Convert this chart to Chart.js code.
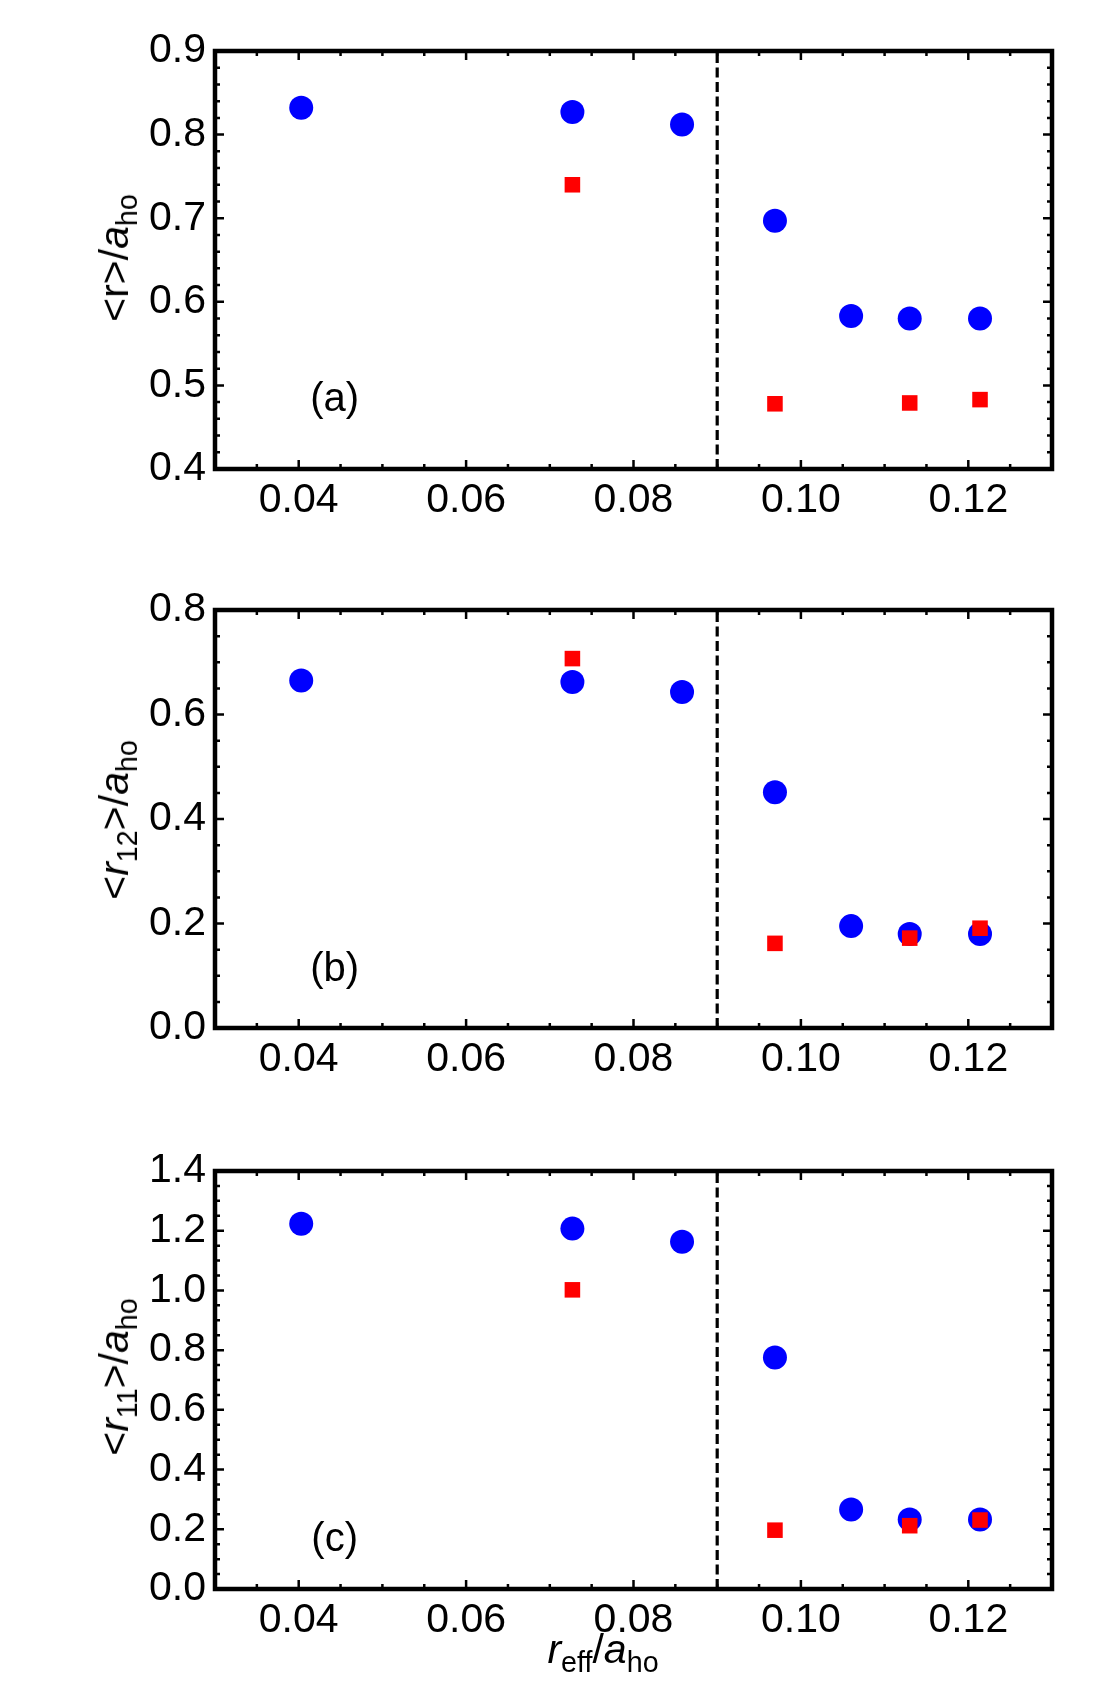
<!DOCTYPE html>
<html>
<head>
<meta charset="utf-8">
<script src="https://cdn.jsdelivr.net/npm/chart.js@4.4.0/dist/chart.umd.min.js"></script>
<style>
  body { margin: 0; background: #fff; width: 1119px; height: 1707px; position: relative; overflow: hidden;
         font-family: "Liberation Sans", Arial, sans-serif; color: #000; }
  canvas { position: absolute; left: 0; }
  .title { position: absolute; font-size: 41px; line-height: 40px; white-space: nowrap; }
  .ytitle { transform: translate(-50%, -50%) rotate(-90deg); }
  .xtitle { transform: translate(-50%, -50%); }
  .title sub { font-size: 0.7em; vertical-align: -0.3em; line-height: 0; }
  .title i { font-style: italic; }
</style>
</head>
<body>
<canvas id="panelA" width="1119" height="540" style="top:0px"></canvas>
<canvas id="panelB" width="1119" height="540" style="top:560px"></canvas>
<canvas id="panelC" width="1119" height="587" style="top:1120px"></canvas>

<div class="title ytitle" style="left:114px; top:258px">&lt;r&gt;/<i>a</i><sub>ho</sub></div>
<div class="title ytitle" style="left:114px; top:820px">&lt;<i>r</i><sub>12</sub>&gt;/<i>a</i><sub>ho</sub></div>
<div class="title ytitle" style="left:114px; top:1377px">&lt;<i>r</i><sub>11</sub>&gt;/<i>a</i><sub>ho</sub></div>
<div class="title xtitle" style="left:603px; top:1649px"><i>r</i><sub>eff</sub>/<i>a</i><sub>ho</sub></div>

<script>
// r_eff / a_ho positions of the two kinds of points
var xBlue = [0.0403, 0.0727, 0.0858, 0.0969, 0.1060, 0.1130, 0.1214];
var xRed = [0.0727, 0.0969, 0.1130, 0.1214];

// (a) <r>/a_ho
var rBlue = [0.832, 0.827, 0.812, 0.697, 0.583, 0.580, 0.580];
var rRed = [0.740, 0.478, 0.479, 0.483];
// (b) <r12>/a_ho
var r12Blue = [0.665, 0.662, 0.643, 0.451, 0.195, 0.180, 0.180];
var r12Red = [0.707, 0.162, 0.172, 0.191];
// (c) <r11>/a_ho
var r11Blue = [1.223, 1.207, 1.163, 0.775, 0.266, 0.233, 0.233];
var r11Red = [1.002, 0.197, 0.212, 0.231];

var dividerX = 0.09;

var xMajor = [0.04, 0.06, 0.08, 0.10, 0.12];
var xMinorStep = 0.005;
var yMajorA = [0.4, 0.5, 0.6, 0.7, 0.8, 0.9];
var yMajorB = [0.0, 0.2, 0.4, 0.6, 0.8];
var yMajorC = [0.0, 0.2, 0.4, 0.6, 0.8, 1.0, 1.2, 1.4];

var FONT = '"Liberation Sans", Arial, sans-serif';

function pairs(xs, ys) {
    return xs.map(function (x, i) { return { x: x, y: ys[i] }; });
}

function stepTicks(min, max, step) {
    var out = [];
    var n = Math.round((max - min) / step);
    for (var i = 0; i <= n; i++) out.push(+(min + i * step).toFixed(4));
    return out;
}

function isMajor(list, v) {
    return list.some(function (m) { return Math.abs(m - v) < 1e-6; });
}

// inward ticks on all four sides, the frame, and the panel letter
var frameTicks = {
    id: 'frameTicks',
    afterDatasetsDraw: function (chart, args, opts) {
        var ctx = chart.ctx, a = chart.chartArea;
        var xs = chart.scales.x, ys = chart.scales.y;
        ctx.save();
        ctx.strokeStyle = '#000';
        ctx.lineWidth = 2.5;
        opts.xTicks.forEach(function (v) {
            var len = isMajor(xMajor, v) ? 9 : 5;
            var px = xs.getPixelForValue(v);
            ctx.beginPath();
            ctx.moveTo(px, a.bottom); ctx.lineTo(px, a.bottom - len);
            ctx.moveTo(px, a.top); ctx.lineTo(px, a.top + len);
            ctx.stroke();
        });
        opts.yTicks.forEach(function (v) {
            var len = isMajor(opts.yMajor, v) ? 9 : 5;
            var py = ys.getPixelForValue(v);
            ctx.beginPath();
            ctx.moveTo(a.left, py); ctx.lineTo(a.left + len, py);
            ctx.moveTo(a.right, py); ctx.lineTo(a.right - len, py);
            ctx.stroke();
        });
        ctx.lineWidth = 4.5;
        ctx.strokeRect(a.left, a.top, a.right - a.left, a.bottom - a.top);

        ctx.fillStyle = '#000';
        ctx.font = '40px ' + FONT;
        ctx.textAlign = 'center';
        ctx.textBaseline = 'middle';
        ctx.fillText(opts.label, xs.getPixelForValue(opts.labelX), ys.getPixelForValue(opts.labelY));
        ctx.restore();
    }
};

function makePanel(id, blue, red, yMin, yMax, yMajor, yMinorStep, label, labelY, padTop, xHeight) {
    var el = document.getElementById(id).getContext('2d');
    return new Chart(el, {
        type: 'scatter',
        data: {
            datasets: [{
                data: pairs(xBlue, blue),
                order: 2,
                pointStyle: 'circle',
                pointRadius: 12,
                pointHoverRadius: 12,
                pointBorderWidth: 0,
                backgroundColor: '#0000FF',
                borderColor: '#0000FF'
            }, {
                data: pairs(xRed, red),
                order: 1,
                pointStyle: 'rect',
                pointRadius: 11,
                pointHoverRadius: 11,
                pointBorderWidth: 0,
                backgroundColor: '#FF0000',
                borderColor: '#FF0000'
            }, {
                type: 'line',
                order: 3,
                data: [{ x: dividerX, y: yMin }, { x: dividerX, y: yMax }],
                borderColor: '#000',
                borderWidth: 3.2,
                borderDash: [10, 4.5],
                pointRadius: 0,
                fill: false
            }]
        },
        options: {
            responsive: false,
            animation: false,
            devicePixelRatio: 1,
            layout: { padding: { left: 0, right: 67, top: padTop, bottom: 0 } },
            plugins: {
                legend: { display: false },
                tooltip: { enabled: false },
                frameTicks: {
                    xTicks: stepTicks(0.03, 0.13, xMinorStep),
                    yTicks: stepTicks(yMin, yMax, yMinorStep),
                    yMajor: yMajor,
                    label: label,
                    labelX: 0.0443,
                    labelY: labelY
                }
            },
            scales: {
                x: {
                    type: 'linear',
                    min: 0.03,
                    max: 0.13,
                    grid: { display: false, drawTicks: false },
                    border: { display: false },
                    afterBuildTicks: function (s) { s.ticks = xMajor.map(function (v) { return { value: v }; }); },
                    afterFit: function (s) { s.height = xHeight; },
                    ticks: {
                        padding: 7,
                        color: '#000',
                        font: { family: FONT, size: 41 },
                        maxRotation: 0,
                        callback: function (v) { return v.toFixed(2); }
                    }
                },
                y: {
                    type: 'linear',
                    min: yMin,
                    max: yMax,
                    grid: { display: false, drawTicks: false },
                    border: { display: false },
                    afterBuildTicks: function (s) { s.ticks = yMajor.map(function (v) { return { value: v }; }); },
                    afterFit: function (s) { s.width = 215; },
                    ticks: {
                        padding: 9,
                        color: '#000',
                        font: { family: FONT, size: 41 },
                        callback: function (v) { return v.toFixed(1); }
                    }
                }
            }
        },
        plugins: [frameTicks]
    });
}

makePanel('panelA', rBlue, rRed, 0.4, 0.9, yMajorA, 0.02, '(a)', 0.483, 51, 71);
makePanel('panelB', r12Blue, r12Red, 0.0, 0.8, yMajorB, 0.05, '(b)', 0.111, 50, 72);
makePanel('panelC', r11Blue, r11Red, 0.0, 1.4, yMajorC, 0.05, '(c)', 0.163, 51, 118);
</script>
</body>
</html>
